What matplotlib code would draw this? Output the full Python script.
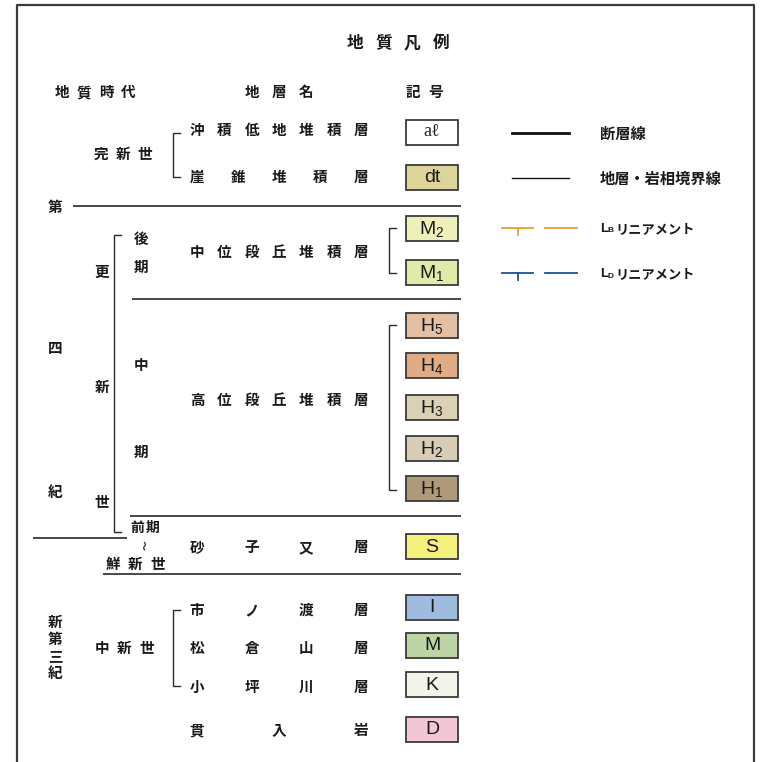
import matplotlib.pyplot as plt
import matplotlib.patches as patches

plt.rcParams['font.family'] = ['Noto Sans CJK JP', 'DejaVu Sans']
plt.rcParams['mathtext.fontset'] = 'custom'
plt.rcParams['mathtext.rm'] = 'Liberation Sans'
plt.rcParams['mathtext.it'] = 'Liberation Sans'

# legend content
title = '地質凡例'
headers = ['地質時代', '地層名', '記号']
unit_names = ['沖積低地堆積層', '崖錐堆積層', '中位段丘堆積層', '高位段丘堆積層',
              '砂子又層', '市ノ渡層', '松倉山層', '小坪川層', '貫入岩']
symbols = ['a\u2113', 'dt', 'M', 'M', 'H', 'H', 'H', 'H', 'H', 'S', 'I', 'M', 'K', 'D']
symbol_subs = ['', '', '2', '1', '5', '4', '3', '2', '1', '', '', '', '', '']
symbol_colors = ['#ffffff', '#ddd49a', '#eef0bc', '#e2eaa8', '#e3c0a4', '#dfac86',
                 '#dad1b4', '#d8cdb4', '#ae9a78', '#f6f07c', '#9fbce0', '#bdd5a4',
                 '#f4f4ea', '#f2c6d6']
line_labels = ['断層線', '地層・岩相境界線', 'リニアメント', 'リニアメント']
line_subs = ['', '', 'B', 'D']
line_colors = ['#111111', '#111111', '#e8a030', '#1f4f9a']

# layout (pixel coordinates)
unit_y = [130, 177, 252, 400, 547, 610, 648, 687, 730]
symbol_y = [132, 177, 228, 272, 325, 365, 407, 448, 488, 546, 607, 645, 684, 729]
line_y = [133, 178, 228, 273]

fig = plt.figure(figsize=(7.62, 7.62), dpi=100)
ax = fig.add_axes([0, 0, 1, 1])
ax.set_xlim(0, 762)
ax.set_ylim(762, 0)
ax.axis('off')

def spread(s, x0, x1, y, size=10.5, **kw):
    n = len(s)
    for i, ch in enumerate(s):
        x = x0 if n == 1 else x0 + (x1 - x0) * i / (n - 1)
        ax.text(x, y, ch, ha='center', va='center', fontsize=size,
                fontweight='bold', color='#1a1a1a', **kw)

def column(s, x, ys, size=10.5):
    for ch, y in zip(s, ys):
        ax.text(x, y, ch, ha='center', va='center', fontsize=size,
                fontweight='bold', color='#1a1a1a')

def hline(x0, x1, y, lw=1.2):
    ax.plot([x0, x1], [y, y], color='#2a2a2a', lw=lw, solid_capstyle='butt')

def bracket(x, y0, y1, tick=7, lw=1.0):
    ax.plot([x + tick, x, x, x + tick], [y0, y0, y1, y1], color='#2a2a2a', lw=lw)

# frame
ax.plot([17, 17, 754, 754], [770, 5, 5, 770], color='#3a3a3a', lw=1.6)

# title + headers
spread(title, 355, 441, 43, size=12)
spread(headers[0], 62, 128, 92)
spread(headers[1], 252, 306, 92)
spread(headers[2], 413, 436, 92)

# unit names
for name, y in zip(unit_names, unit_y):
    spread(name, 197, 361, y)

# age labels
spread('完新世', 101, 145, 154)
spread('中新世', 102, 147, 648)
spread('鮮新世', 113, 158, 564)
spread('前期', 137, 153, 528, size=10)
ax.text(146, 545, '〜', rotation=90, ha='center', va='center', fontsize=7,
        fontweight='bold', color='#1a1a1a')
column('第四紀', 55, [207, 348, 492])
column('新第三紀', 55, [622, 639, 656, 673])
column('更新世', 102, [272, 387, 502])
column('後期中期', 141, [239, 267, 365, 452])

# separators and brackets
hline(73, 461, 206)
hline(132, 461, 299)
hline(130, 461, 516)
hline(33, 127, 538)
hline(103, 461, 574)
bracket(173, 133, 177)
bracket(114, 235, 532)
bracket(389, 228, 273)
bracket(389, 325, 490)
bracket(173, 610, 686)

# symbol boxes
for sym, sub, col, y in zip(symbols, symbol_subs, symbol_colors, symbol_y):
    ax.add_patch(patches.Rectangle((406, y - 12.5), 52, 25, facecolor=col,
                                   edgecolor='#3a3a3a', lw=1.3))
    if sym.startswith('a'):
        ax.text(432, y, sym, ha='center', va='center', fontsize=13,
                family=['Liberation Serif', 'DejaVu Serif'], color='#222222')
    else:
        txt = sym + ('$_{%s}$' % sub if sub else '')
        ax.text(432, y + 1, txt, ha='center', va='center', fontsize=14,
                family='Liberation Sans', color='#1a1a1a')

# line legend
ax.plot([512, 569], [line_y[0]] * 2, color=line_colors[0], lw=2.0)
ax.plot([512, 569], [line_y[1]] * 2, color=line_colors[1], lw=1.0)
for i in (2, 3):
    y = line_y[i]
    c = line_colors[i]
    ax.plot([502, 533], [y, y], color=c, lw=1.3)
    ax.plot([518, 518], [y, y + 7], color=c, lw=1.3)
    ax.plot([545, 577], [y, y], color=c, lw=1.3)
for i in range(4):
    y = line_y[i] + 1
    if line_subs[i]:
        ax.text(600, y, 'L', ha='left', va='center', fontsize=9.5, fontweight='bold',
                family='Liberation Sans', color='#1a1a1a')
        ax.text(608, y + 2, line_subs[i], ha='left', va='center', fontsize=6,
                fontweight='bold', family='Liberation Sans', color='#1a1a1a')
        ax.text(615, y, line_labels[i], ha='left', va='center', fontsize=9.5,
                fontweight='bold', color='#1a1a1a')
    else:
        ax.text(600, y, line_labels[i], ha='left', va='center', fontsize=11,
                fontweight='bold', color='#1a1a1a')

fig.savefig('out.png', dpi=100)
